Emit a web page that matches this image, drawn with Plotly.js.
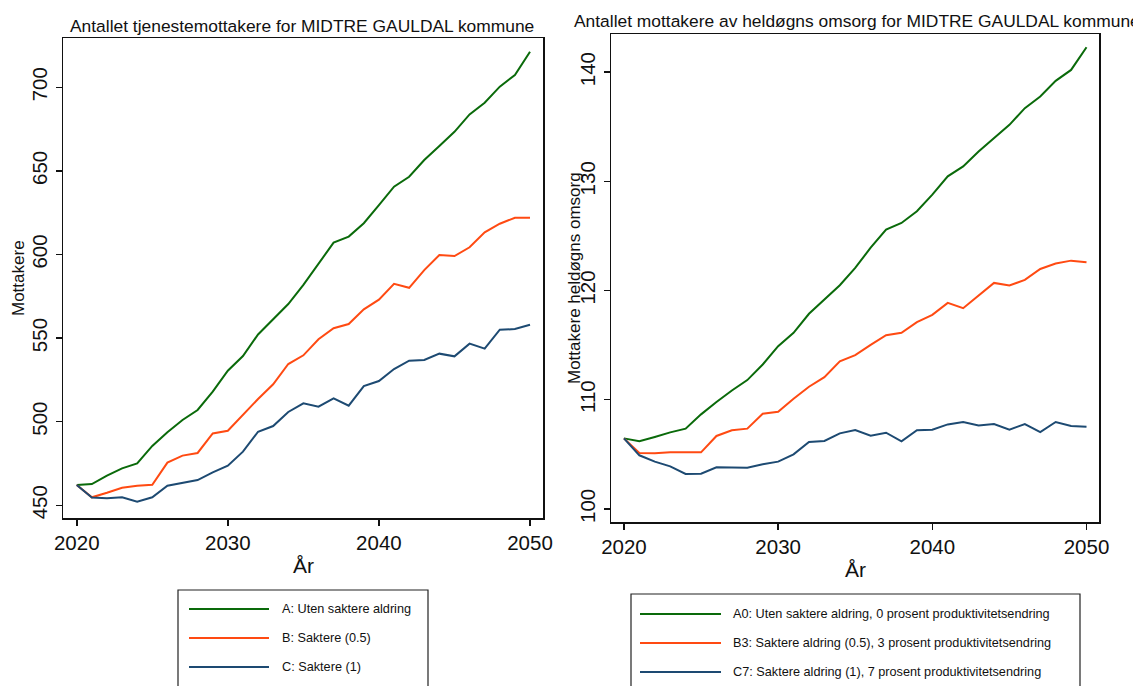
<!DOCTYPE html>
<html><head><meta charset="utf-8">
<script src="https://cdn.plot.ly/plotly-3.0.1.min.js"></script>
<style>html,body{margin:0;padding:0;background:#fff;} #chart{width:1133px;height:686px;}</style>
</head><body><div id="chart"></div>
<script>
const years = [2020,2021,2022,2023,2024,2025,2026,2027,2028,2029,2030,2031,2032,2033,2034,2035,2036,2037,2038,2039,2040,2041,2042,2043,2044,2045,2046,2047,2048,2049,2050];

// Left panel: Mottakere
const leftA = [462.1,462.7,467.7,472.1,475.1,485.5,493.7,501.0,507.0,518.0,530.5,539.3,552.2,561.2,570.4,581.8,594.7,607.1,610.7,618.7,629.6,640.6,646.5,656.5,664.9,673.4,683.8,690.8,700.4,707.4,721.3];
const leftB = [462.1,454.8,457.5,460.5,461.7,462.3,475.5,479.7,481.3,493.0,494.6,504.2,513.6,522.4,534.5,539.7,549.3,555.9,558.4,567.2,573.0,582.5,580.1,590.7,599.7,599.1,604.3,613.3,618.4,622.0,622.0];
const leftC = [462.1,454.6,454.2,454.8,452.2,454.8,461.7,463.3,465.1,469.7,473.7,482.1,494.0,497.4,505.8,511.0,509.0,514.0,509.6,521.3,524.3,531.5,536.5,536.9,540.7,539.1,546.7,543.7,555.0,555.4,558.0];

// Right panel: Mottakere heldøgns omsorg
const rightA0 = [106.46,106.19,106.59,107.01,107.35,108.66,109.79,110.85,111.80,113.23,114.91,116.13,117.87,119.18,120.49,122.07,123.93,125.58,126.19,127.26,128.78,130.46,131.37,132.74,133.96,135.18,136.71,137.77,139.21,140.21,142.29];
const rightB3 = [106.46,105.12,105.09,105.18,105.18,105.18,106.68,107.20,107.35,108.72,108.90,110.09,111.19,112.07,113.51,114.09,115.03,115.91,116.13,117.10,117.77,118.87,118.38,119.57,120.70,120.46,120.98,121.98,122.47,122.74,122.59];
const rightC7 = [106.46,104.91,104.33,103.90,103.20,103.23,103.81,103.78,103.78,104.09,104.33,105.00,106.13,106.22,106.92,107.23,106.71,106.98,106.19,107.20,107.26,107.74,107.96,107.65,107.77,107.26,107.77,107.04,107.96,107.59,107.53];

const leftNames = ["A: Uten saktere aldring","B: Saktere (0.5)","C: Saktere (1)"];
const rightNames = ["A0: Uten saktere aldring, 0 prosent produktivitetsendring","B3: Saktere aldring (0.5), 3 prosent produktivitetsendring","C7: Saktere aldring (1), 7 prosent produktivitetsendring"];
const leftTicks = [450,500,550,600,650,700];
const rightTicks = [100,110,120,130,140];
const xTicks = [2020,2030,2040,2050];

const colors = ["#0a6a0a","#ff4a12","#1d4a72"];
const W = 1133, H = 686;
const px = x => x / W;
const py = y => 1 - y / H;
const FONT = "Liberation Sans, Arial, Helvetica, sans-serif";

const traces = [];
[leftA, leftB, leftC].forEach((v,i) => traces.push({x: years, y: v, type:'scatter', mode:'lines', name: leftNames[i], line:{color: colors[i], width:2}, xaxis:'x', yaxis:'y', showlegend:false}));
[rightA0, rightB3, rightC7].forEach((v,i) => traces.push({x: years, y: v, type:'scatter', mode:'lines', name: rightNames[i], line:{color: colors[i], width:2}, xaxis:'x2', yaxis:'y2', showlegend:false}));

const axisCommon = {showline:true, mirror:true, linecolor:'#111', linewidth:1.5, ticks:'outside', ticklen:6, tickwidth:1.5, tickcolor:'#111', showgrid:false, zeroline:false, tickfont:{size:20.5, color:'#111', family:FONT}};

const shapes = [];
const annotations = [];
// titles
annotations.push({xref:'paper', yref:'paper', x:px(301.5), y:py(26), xanchor:'center', yanchor:'middle', text:'Antallet tjenestemottakere for MIDTRE GAULDAL kommune', showarrow:false, font:{size:17.4, color:'#111', family:FONT}});
annotations.push({xref:'paper', yref:'paper', x:px(572), y:py(21), xanchor:'left', yanchor:'middle', text:'Antallet mottakere av heldøgns omsorg for MIDTRE GAULDAL kommune', showarrow:false, font:{size:17.4, color:'#111', family:FONT}});
// axis titles
annotations.push({xref:'paper', yref:'paper', x:px(18), y:py(278), xanchor:'center', yanchor:'middle', textangle:-90, text:'Mottakere', showarrow:false, font:{size:17, color:'#111', family:FONT}});
annotations.push({xref:'paper', yref:'paper', x:px(574), y:py(278), xanchor:'center', yanchor:'middle', textangle:-90, text:'Mottakere heldøgns omsorg', showarrow:false, font:{size:17, color:'#111', family:FONT}});
annotations.push({xref:'paper', yref:'paper', x:px(303), y:py(565), xanchor:'center', yanchor:'middle', text:'År', showarrow:false, font:{size:21, color:'#111', family:FONT}});
annotations.push({xref:'paper', yref:'paper', x:px(855), y:py(569), xanchor:'center', yanchor:'middle', text:'År', showarrow:false, font:{size:21, color:'#111', family:FONT}});

// legends (manual, to match long line samples)
function legend(x0, x1, top, lineX0, lineX1, textX, rowsY, names) {
  shapes.push({type:'rect', xref:'paper', yref:'paper', x0:px(x0), x1:px(x1), y0:py(top), y1:py(H+20), line:{color:'#222', width:1.2}, fillcolor:'#fff', layer:'above'});
  names.forEach((n,i) => {
    shapes.push({type:'line', xref:'paper', yref:'paper', x0:px(lineX0), x1:px(lineX1), y0:py(rowsY[i]), y1:py(rowsY[i]), line:{color:colors[i], width:2}, layer:'above'});
    annotations.push({xref:'paper', yref:'paper', x:px(textX), y:py(rowsY[i]), xanchor:'left', yanchor:'middle', text:n, showarrow:false, font:{size:12.7, color:'#111', family:FONT}});
  });
}
legend(178, 428, 590, 189, 269, 280, [609, 638, 667], leftNames);
legend(631, 1080, 594, 640, 721, 731, [614, 643, 672], rightNames);

const layout = {
  width: W, height: H,
  margin:{l:0, r:0, t:0, b:0},
  paper_bgcolor:'#fff', plot_bgcolor:'#fff',
  font:{family:FONT, color:'#111'},
  showlegend:false,
  xaxis: Object.assign({}, axisCommon, {domain:[px(63), px(543)], range:[2019.09, 2050.86], tickvals:xTicks, anchor:'y'}),
  yaxis: Object.assign({}, axisCommon, {domain:[py(518), py(38)], range:[442.4, 729.5], tickvals:leftTicks, tickangle:-90, anchor:'x'}),
  xaxis2: Object.assign({}, axisCommon, {domain:[px(611), px(1099)], range:[2019.16, 2050.81], tickvals:xTicks, anchor:'y2'}),
  yaxis2: Object.assign({}, axisCommon, {domain:[py(522), py(34)], range:[98.8, 143.5], tickvals:rightTicks, tickangle:-90, anchor:'x2'}),
  shapes: shapes,
  annotations: annotations
};

Plotly.newPlot('chart', traces, layout, {displayModeBar:false, staticPlot:true});
</script>
</body></html>
